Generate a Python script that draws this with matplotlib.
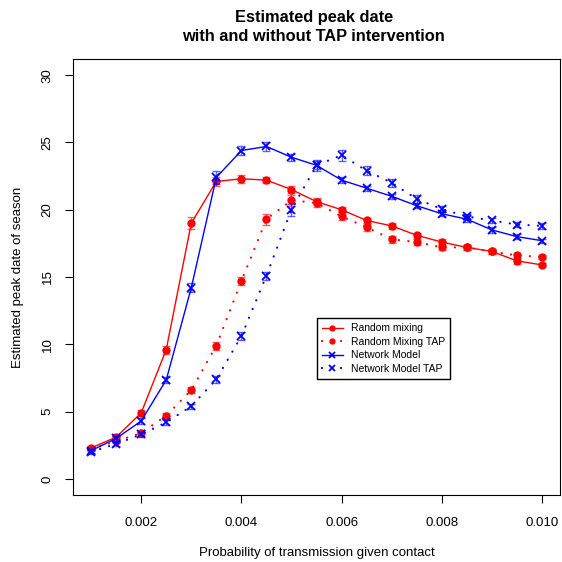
import numpy as np
import matplotlib
matplotlib.use("Agg")
import matplotlib.pyplot as plt

plt.rcParams['font.family'] = ['Liberation Sans', 'DejaVu Sans']

prob = [0.001, 0.0015, 0.002, 0.0025, 0.003, 0.0035, 0.004, 0.0045, 0.005, 0.0055,
        0.006, 0.0065, 0.007, 0.0075, 0.008, 0.0085, 0.009, 0.0095, 0.010]

rm = [2.3, 3.1, 4.9, 9.6, 19.0, 22.1, 22.3, 22.2, 21.5, 20.6,
      20.0, 19.2, 18.8, 18.1, 17.6, 17.2, 16.9, 16.2, 15.9]
rm_err = [0.15, 0.15, 0.2, 0.3, 0.45, 0.3, 0.3, 0.25, 0.25, 0.25,
          0.2, 0.2, 0.2, 0.2, 0.2, 0.2, 0.2, 0.2, 0.15]

rm_tap = [2.2, 2.8, 3.4, 4.7, 6.6, 9.9, 14.7, 19.3, 20.7, 20.5,
          19.5, 18.7, 17.8, 17.6, 17.2, 17.2, 16.9, 16.6, 16.5]
rm_tap_err = [0.15, 0.15, 0.2, 0.2, 0.25, 0.3, 0.3, 0.4, 0.4, 0.3,
              0.3, 0.25, 0.25, 0.2, 0.2, 0.2, 0.2, 0.2, 0.15]

nm = [2.1, 3.0, 4.3, 7.35, 14.2, 22.4, 24.4, 24.7, 23.9, 23.3,
      22.2, 21.6, 21.0, 20.3, 19.7, 19.3, 18.5, 18.0, 17.7]
nm_err = [0.15, 0.15, 0.2, 0.25, 0.35, 0.5, 0.35, 0.3, 0.25, 0.3,
          0.2, 0.2, 0.2, 0.2, 0.2, 0.2, 0.2, 0.2, 0.15]

nm_tap = [2.0, 2.6, 3.3, 4.2, 5.4, 7.4, 10.6, 15.1, 20.0, 23.3,
          24.05, 22.9, 22.0, 20.8, 20.05, 19.5, 19.2, 18.9, 18.8]
nm_tap_err = [0.15, 0.15, 0.2, 0.2, 0.2, 0.25, 0.3, 0.3, 0.45, 0.4,
              0.4, 0.35, 0.3, 0.3, 0.25, 0.2, 0.2, 0.2, 0.2]

series = [
    (rm, rm_err, 'red', '-', 'o', 'Random mixing'),
    (rm_tap, rm_tap_err, 'red', ':', 'o', 'Random Mixing TAP'),
    (nm, nm_err, 'blue', '-', 'x', 'Network Model'),
    (nm_tap, nm_tap_err, 'blue', ':', 'x', 'Network Model TAP'),
]

fig = plt.figure(figsize=(5.62, 5.62), dpi=100)
ax = fig.add_axes([0.130, 0.1192, 0.8664, 0.7758])

for y, e, c, ls, m, lab in series:
    ax.errorbar(prob, y, yerr=e, fmt='none', ecolor=c, alpha=0.6,
                elinewidth=1, capsize=3, capthick=1)
    if ls == ':':
        style = dict(linestyle=(0, (0.05, 4.2)), linewidth=1.6, dash_capstyle='round')
    else:
        style = dict(linestyle='-', linewidth=1)
    ax.plot(prob, y, color=c, marker=m,
            markersize=5 if m == 'o' else 5.5,
            markeredgewidth=1.3 if m == 'x' else 1, label=lab, **style)

ax.set_xlim(0.00064, 0.01036)
ax.set_ylim(-1.2, 31.2)
ax.set_xticks([0.002, 0.004, 0.006, 0.008, 0.010])
ax.set_xticklabels(['0.002', '0.004', '0.006', '0.008', '0.010'])
ax.set_yticks([0, 5, 10, 15, 20, 25, 30])
ax.tick_params(axis='both', direction='out', length=6, labelsize=9.5)
ax.tick_params(axis='x', pad=10)
ax.tick_params(axis='y', pad=8)
for lbl in ax.get_yticklabels():
    lbl.set_rotation(90)
    lbl.set_va('center')

ax.set_xlabel('Probability of transmission given contact', fontsize=9.5, labelpad=13)
ax.set_ylabel('Estimated peak date of season', fontsize=9.5, labelpad=13)
fig.text(0.558, 0.952, 'Estimated peak date\nwith and without TAP intervention',
         ha='center', va='center', fontsize=11.8, fontweight='bold', linespacing=1.3)

leg = ax.legend(loc='upper left', bbox_to_anchor=(0.5, 0.406), fontsize=7.5,
                frameon=True, fancybox=False, edgecolor='black', framealpha=1,
                handlelength=2.0, borderpad=0.5, labelspacing=0.35, markerscale=0.7,
                borderaxespad=0)
leg.get_frame().set_linewidth(1)

fig.savefig('out.png', dpi=100)
